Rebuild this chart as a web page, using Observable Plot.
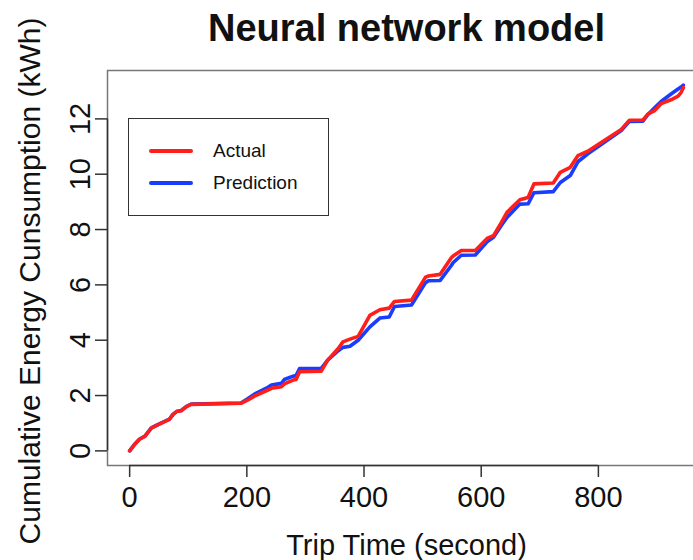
<!DOCTYPE html>
<html>
<head>
<meta charset="utf-8">
<script src="https://cdn.jsdelivr.net/npm/d3@7"></script>
<script src="https://cdn.jsdelivr.net/npm/@observablehq/plot@0.6"></script>
<style>
  html, body { margin: 0; padding: 0; background: #fff; overflow: hidden; }
  #wrap { position: relative; width: 693px; height: 560px; font-family: "Liberation Sans", Arial, sans-serif; }
  #legend { position: absolute; left: 128px; top: 118px; width: 199px; height: 96px; border: 1.5px solid #333; background: #fff; }
  .sw { position: absolute; left: 20px; width: 44px; height: 4px; border-radius: 2px; }
  .lab { position: absolute; left: 84px; font-size: 19px; color: #111; white-space: nowrap; line-height: 20px; }
</style>
</head>
<body>
<div id="wrap"></div>
<script>
const title = "Neural network model";
const xLabel = "Trip Time (second)";
const yLabel = "Cumulative Energy Cunsumption (kWh)";
const xTicks = [0, 200, 400, 600, 800];
const yTicks = [0, 2, 4, 6, 8, 10, 12];
const seriesNames = ["Actual", "Prediction"];
const seriesColors = ["#ff1f1a", "#1a3cff"];

const time = [0, 8, 17, 26, 37, 48, 57, 68, 74, 80, 88, 97, 105, 190, 202, 213, 236, 242, 259, 264, 279, 284, 290, 327, 338, 356, 364, 376, 390, 410, 427, 443, 452, 481, 505, 510, 530, 549, 552, 566, 590, 610, 621, 634, 644, 666, 680, 690, 723, 735, 752, 765, 782, 839, 853, 876, 885, 896, 907, 924, 936, 941, 945];
const actual = [0, 0.22, 0.42, 0.52, 0.82, 0.94, 1.03, 1.14, 1.32, 1.42, 1.45, 1.60, 1.68, 1.72, 1.84, 1.98, 2.20, 2.26, 2.32, 2.42, 2.56, 2.58, 2.86, 2.88, 3.28, 3.70, 3.94, 4.04, 4.14, 4.90, 5.10, 5.16, 5.40, 5.45, 6.28, 6.32, 6.38, 6.98, 7.04, 7.24, 7.24, 7.68, 7.78, 8.24, 8.62, 9.08, 9.16, 9.65, 9.68, 10.07, 10.25, 10.67, 10.83, 11.62, 11.95, 11.96, 12.18, 12.30, 12.55, 12.69, 12.82, 12.95, 13.13];
const prediction = [0, 0.23, 0.43, 0.53, 0.83, 0.95, 1.04, 1.15, 1.32, 1.42, 1.46, 1.61, 1.69, 1.73, 1.89, 2.05, 2.30, 2.38, 2.44, 2.58, 2.70, 2.72, 2.98, 2.98, 3.28, 3.62, 3.74, 3.78, 4.00, 4.48, 4.80, 4.84, 5.22, 5.27, 6.08, 6.15, 6.16, 6.70, 6.80, 7.07, 7.08, 7.56, 7.72, 8.14, 8.44, 8.92, 8.93, 9.33, 9.37, 9.70, 9.95, 10.45, 10.74, 11.58, 11.91, 11.92, 12.17, 12.40, 12.63, 12.90, 13.08, 13.15, 13.22];

const actualData = time.map((t, i) => ({t, v: actual[i]}));
const predData = time.map((t, i) => ({t, v: prediction[i]}));

// R-style 4% axis extension
const xr = [d3.min(time), d3.max(time)];
const yr = [0, d3.max([...actual, ...prediction])];
const xd = [xr[0] - 0.04 * (xr[1] - xr[0]), xr[1] + 0.04 * (xr[1] - xr[0])];
const yd = [yr[0] - 0.04 * (yr[1] - yr[0]), yr[1] + 0.04 * (yr[1] - yr[0])];

const font = "Liberation Sans, Arial, sans-serif";
const chart = Plot.plot({
  width: 693,
  height: 560,
  marginLeft: 107,
  marginRight: -12,
  marginTop: 70,
  marginBottom: 95,
  style: {fontFamily: font, color: "#111", background: "#fff", overflow: "visible"},
  x: {domain: xd},
  y: {domain: yd},
  marks: [
    Plot.frame({stroke: "#777", strokeWidth: 1.5}),
    Plot.ruleY([yd[0]], {x1: xTicks[0], x2: xTicks[xTicks.length - 1], stroke: "#333", strokeWidth: 1.5}),
    Plot.ruleX([xd[0]], {y1: yTicks[0], y2: yTicks[yTicks.length - 1], stroke: "#333", strokeWidth: 1.5}),
    Plot.axisX({ticks: xTicks, tickSize: 12, tickPadding: 9, fontSize: 29, label: null, stroke: "#333", strokeWidth: 1.5}),
    Plot.axisY({ticks: yTicks, tickSize: 12, tickPadding: 6, tickRotate: -90, fontSize: 29, label: null, stroke: "#333", strokeWidth: 1.5}),
    Plot.line(predData, {x: "t", y: "v", stroke: seriesColors[1], strokeWidth: 3.6, strokeLinejoin: "round", strokeLinecap: "round"}),
    Plot.line(actualData, {x: "t", y: "v", stroke: seriesColors[0], strokeWidth: 3.6, strokeLinejoin: "round", strokeLinecap: "round"}),
    Plot.text([title], {frameAnchor: "top", dy: -42, lineAnchor: "middle", fontSize: 38, fontWeight: "bold", fill: "#111"}),
    Plot.text([xLabel], {frameAnchor: "bottom", dy: 80, lineAnchor: "middle", fontSize: 29, fill: "#111"}),
    Plot.text([yLabel], {frameAnchor: "left", dx: -77, dy: 13, rotate: -90, textAnchor: "middle", lineAnchor: "middle", fontSize: 30, fill: "#111"})
  ]
});

const wrap = document.getElementById("wrap");
wrap.appendChild(chart);

const legend = document.createElement("div");
legend.id = "legend";
seriesNames.forEach((name, i) => {
  const top = i === 0 ? 22 : 54;
  const sw = document.createElement("div");
  sw.className = "sw";
  sw.style.top = (top + 8) + "px";
  sw.style.background = seriesColors[i];
  const lab = document.createElement("div");
  lab.className = "lab";
  lab.style.top = top + "px";
  lab.textContent = name;
  legend.appendChild(sw);
  legend.appendChild(lab);
});
wrap.appendChild(legend);
</script>
</body>
</html>
